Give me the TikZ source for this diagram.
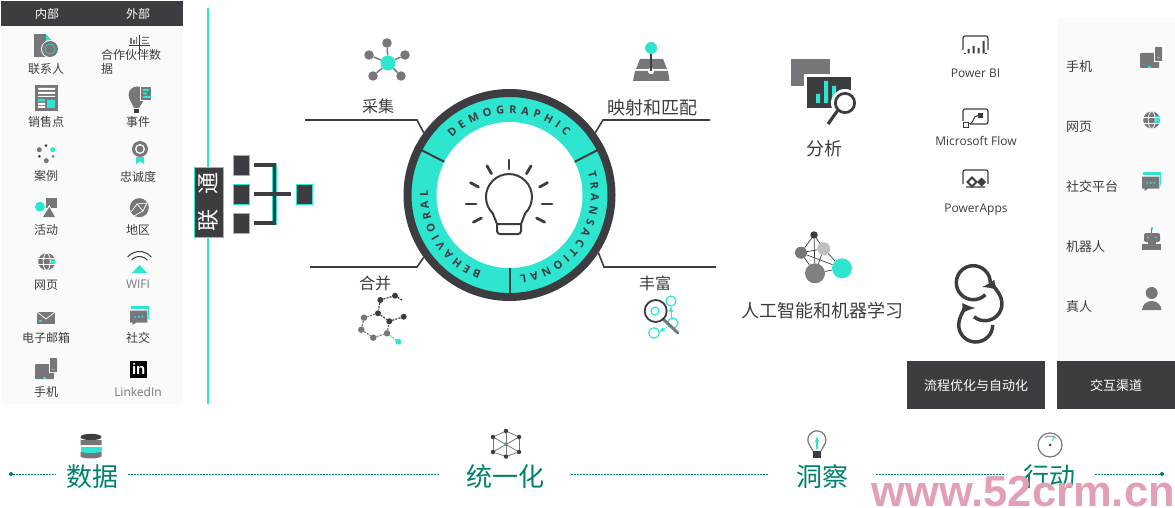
\documentclass[tikz,border=0pt]{standalone}
\usepackage{fontspec}
\setmainfont{Open Sans}
\newfontfamily\cjk{Noto Sans CJK SC}
\newfontfamily\markfont{Liberation Sans}
\usetikzlibrary{decorations.text, positioning}

\definecolor{dark}{HTML}{3D3C40}
\definecolor{midgray}{HTML}{77767A}
\definecolor{aqua}{HTML}{2EE6D0}
\definecolor{teal}{HTML}{00806E}
\definecolor{panel}{HTML}{FAFAFA}
\definecolor{pink}{HTML}{E3A0B5}

\tikzset{
    phoneicon/.pic={
        \fill[midgray, rounded corners=1] (0,0) rectangle (19,-15);
        \fill[white] (14,7) rectangle (23.5,-9);
        \fill[midgray, rounded corners=.5] (15,6) rectangle (22,-8);
        \fill[aqua] (8,-13) rectangle (11,-15);
        \fill[aqua] (17,-4.5) rectangle (20,-5.5);
    },
    globeicon/.pic={
        \fill[midgray] (0,0) circle (8.5);
        \fill[aqua] (4,3.5) rectangle (8.3,-3.5);
        \draw[white, line width=.8] (-8.5,3) -- (8.5,3) (-8.5,-3) -- (8.5,-3);
        \draw[white, line width=.8] (0,0) ellipse (3.5 and 8.5);
    },
    chaticon/.pic={
        \fill[aqua] (1,0) rectangle (19,-3);
        \fill[aqua] (17.7,0) rectangle (19,-12.5);
        \fill[midgray] (0,-4.7) -- (17.3,-4.7) -- (17.3,-16.7) -- (6,-16.7) -- (2.5,-19) -- (2.5,-16.7) -- (0,-16.7) -- cycle;
        \fill[aqua] (4.5,-10) rectangle (6,-11.5) (8,-10) rectangle (9.5,-11.5) (11.5,-10) rectangle (13,-11.5);
    }
}

\begin{document}
\begin{tikzpicture}[
            x=1pt,
            y=1pt
        ]

        \tikzstyle{every node}=[inner sep=0pt]
        \tikzstyle{cn}=[font=\cjk\fontsize{#1}{#1}\selectfont, text=dark, yshift=-1]
        \tikzstyle{lat}=[font=\fontsize{#1}{#1}\selectfont, text=dark]
        \tikzstyle{darkbox}=[fill=dark, text=white, font=\cjk\fontsize{13}{13}\selectfont, anchor=north west]
        \tikzstyle{treebox}=[draw=aqua, fill=dark, line width=.7, minimum width=16, minimum height=20]
        \tikzstyle{treeline}=[draw=aqua, double=dark, double distance=3.4, line width=.6]
        \tikzstyle{leader}=[draw=dark, line width=1.6]
        \tikzstyle{dot}=[circle, fill=#1]
        \tikzstyle{flow}=[draw=teal, line width=.9, dash pattern=on 2pt off 1pt]
        \tikzstyle{stage}=[font=\cjk\fontsize{26}{26}\selectfont, text=teal, text height=29, text depth=4]
        \tikzstyle{frame}=[draw=dark, line width=1.2, rounded corners=2]
        \tikzstyle{ringtext}=[decorate, decoration={text along path, text align={fit to path}, text={|\bfseries\fontsize{11}{11}\selectfont\color{dark}|#1}}]

        \useasboundingbox (0,-508) rectangle (1175,0);

        % Left list of sources
        \fill[panel] (1,-1) rectangle (183,-404);
        \fill[dark] (1,-1) rectangle (183,-26);
        \node[cn=12, text=white] (internal) at (47,-13) {内部};
        \node[cn=12, text=white] (external) at (138,-13) {外部};

        \node[cn=12] (contacts) at (46,-68) {联系人};
        \node[cn=12] (pos) at (46,-121) {销售点};
        \node[cn=12] (cases) at (46,-175) {案例};
        \node[cn=12] (campaign) at (46,-229) {活动};
        \node[cn=12] (webl) at (46,-284) {网页};
        \node[cn=12] (email) at (46,-337) {电子邮箱};
        \node[cn=12] (mobilel) at (46,-391) {手机};
        \node[cn=12, anchor=north west, align=left, font=\cjk\fontsize{12}{13.5}\selectfont] (partner) at (101,-48.5) {合作伙伴数\\据};
        \node[cn=12] (event) at (138,-121) {事件};
        \node[cn=12] (loyalty) at (138,-176) {忠诚度};
        \node[cn=12] (region) at (138,-229) {地区};
        \node[lat=12, text=midgray] (wifi) at (138,-284) {WIFI};
        \node[cn=12] (social) at (138,-337) {社交};
        \node[lat=12, text=midgray] (linkedin) at (138,-392) {LinkedIn};

        % contacts
        \fill[midgray] (34,-34) rectangle (46,-57);
        \fill[midgray] (46,-40) rectangle (50,-42);
        \fill[aqua] (46,-34) -- (52,-41) -- (46,-41) -- cycle;
        \fill[white] (50,-49) circle (9);
        \fill[midgray] (50,-49) circle (8);
        \draw[aqua, line width=.5] (50,-49) circle (5);
        % point of sale
        \fill[midgray] (35,-85) rectangle (58,-111);
        \fill[white] (38,-88) rectangle (55,-90) (38,-92) rectangle (55,-94) (38,-96) rectangle (55,-97);
        \fill[aqua] (47,-100) rectangle (55,-108) (38,-99) rectangle (45,-101.5);
        \fill[white] (38,-103) rectangle (45,-105) (38,-106) rectangle (45,-108);
        % partner data
        \fill[midgray] (130,-38) rectangle (132,-44) (133,-40) rectangle (135,-44) (136,-37) rectangle (137,-44);
        \fill[midgray] (142,-37) rectangle (149,-38) (142,-40) rectangle (147,-41) (142,-43) rectangle (149,-44);
        \draw[dark, line width=.8] (129,-45) -- (150,-45);
        \draw[dark, line width=.8] (139,-35) -- (139,-55);
        % event
        \fill[midgray] (137,-95) circle (8.5);
        \fill[midgray] (130,-100) -- (144,-100) -- (139,-108) -- (134,-108) -- cycle;
        \fill[dark] (134,-109) rectangle (139,-113);
        \fill[white] (140,-86) rectangle (152,-101);
        \fill[midgray] (141,-87) rectangle (151,-100);
        \fill[aqua] (143,-89) rectangle (149,-91) (143,-92.5) rectangle (147,-94.5) (143,-96) rectangle (151,-98);
        % cases
        \fill[dark] (46,-145.7) circle (1.5);
        \fill[aqua] (52.7,-149.7) circle (2.5);
        \fill[midgray] (53,-156.3) circle (1.5);
        \fill[midgray] (46.3,-160.7) circle (2.5);
        \fill[dark] (39.3,-156.3) circle (1.5);
        \fill[midgray] (39.3,-149.7) circle (2.5);
        % loyalty
        \fill[aqua] (136,-157) -- (144,-157) -- (144,-164) -- (140,-161.5) -- (136,-164) -- cycle;
        \fill[midgray] (140,-149) circle (8);
        \fill[white] (140,-149) circle (5);
        \fill[midgray] (140,-149) circle (3.5);
        % campaign
        \fill[midgray] (46,-198) rectangle (57,-208);
        \fill[white] (49.3,-205) -- (57,-218) -- (41,-218) -- cycle;
        \fill[midgray] (49.3,-207) -- (55,-217) -- (43,-217) -- cycle;
        \fill[aqua] (40,-206.7) circle (5);
        % region
        \fill[midgray] (139.3,-207.7) circle (9.5);
        \draw[white, line width=.7] (131,-212) -- (137,-204) -- (147,-203) -- (143,-211) -- (137,-204) (143,-211) -- (134,-216);
        % wifi
        \draw[dark, line width=1] (127.6,-257) arc[start angle=140, end angle=40, radius=15.5];
        \draw[dark, line width=1] (131.5,-260.2) arc[start angle=140, end angle=40, radius=10.4];
        \fill[aqua] (139.5,-265) -- (147,-273) -- (132,-273) -- cycle;
        % web, email, social, mobile, linkedin
        \pic at (46.7,-261.7) {globeicon};
        \fill[midgray] (37,-312) rectangle (55,-324);
        \draw[white, line width=.7] (37,-312) -- (46,-319) -- (55,-312);
        \fill[aqua] (39,-319.5) rectangle (41.5,-322);
        \pic at (130,-306) {chaticon};
        \pic at (35,-364) {phoneicon};
        \node[fill=black, minimum size=17.5, text=white, font=\markfont\bfseries\fontsize{15}{15}\selectfont] (inlogo) at (138.7,-369.5) {in};

        % Connect bar and tree
        \draw[aqua, line width=1.8] (208,-8) -- (208,-404);
        \node[rotate=90, draw=aqua, fill=dark, line width=.7, minimum width=70, minimum height=29, text=white, font=\cjk\fontsize{22}{22}\selectfont] (connect) at (208.5,-202) {联\hspace{15pt}通};
        \node[treebox] (leafa) at (241,-165) {};
        \node[treebox] (leafb) at (241,-194) {};
        \node[treebox] (leafc) at (241,-223) {};
        \node[treebox] (root) at (304.5,-194) {};
        \draw[treeline] ([xshift=5]leafa.east) -- ++(20,0) |- ([xshift=5]leafc.east);
        \draw[treeline] ([xshift=5]leafb.east) -- ([xshift=-5]root.west);

        % Center ring
        \node[circle, draw=dark, fill=aqua, line width=8, minimum size=204] (ring) at (509.5,-195) {};
        \node[circle, fill=white, minimum size=146] (hole) at (509.5,-195) {};
        \draw[dark, line width=2] (hole.153) -- (ring.153);
        \draw[dark, line width=2] (hole.27) -- (ring.27);
        \draw[dark, line width=2] (hole.270) -- (ring.270);
        \path[ringtext=DEMOGRAPHIC] (509.5,-195) ++(135:81.5) arc[start angle=135, end angle=46, radius=81.5];
        \path[ringtext=TRANSACTIONAL] (509.5,-195) ++(16:81.5) arc[start angle=16, end angle=-83, radius=81.5];
        \path[ringtext=BEHAVIORAL] (509.5,-195) ++(250:81.5) arc[start angle=250, end angle=177, radius=81.5];

        % bulb
        \draw[dark, line width=2, line join=round] (497,-224) -- (492.7,-213.3) arc[start angle=225, end angle=-45, radius=23] -- (521,-224) -- cycle;
        \draw[dark, line width=2, rounded corners=3] (497,-224) -- (497,-234) -- (521,-234) -- (521,-224);
        \draw[dark, line width=2.8, line cap=round] (509,-204) ++(90:35) -- ++(90:9);
        \draw[dark, line width=2.8, line cap=round] (509,-204) ++(60:35) -- ++(60:9);
        \draw[dark, line width=2.8, line cap=round] (509,-204) ++(120:35) -- ++(120:9);
        \draw[dark, line width=2.8, line cap=round] (509,-204) ++(29:35) -- ++(29:9);
        \draw[dark, line width=2.8, line cap=round] (509,-204) ++(151:35) -- ++(151:9);
        \draw[dark, line width=2.8, line cap=round] (509,-204) ++(0:33) -- ++(0:10);
        \draw[dark, line width=2.8, line cap=round] (509,-204) ++(180:33) -- ++(180:10);
        \draw[dark, line width=2.8, line cap=round] (509,-204) ++(-27:31) -- ++(-27:9);
        \draw[dark, line width=2.8, line cap=round] (509,-204) ++(207:31) -- ++(207:9);

        % Four leaders
        \coordinate (collectend) at (305,-120);
        \coordinate (mapend) at (710,-120);
        \coordinate (mergeend) at (310,-267);
        \coordinate (enrichend) at (716,-267);
        \draw[leader] (ring.144) -- (417,-120) -- (collectend);
        \draw[leader] (ring.36) -- (603,-120) -- (mapend);
        \draw[leader] (ring.216) -- (417,-267) -- (mergeend);
        \draw[leader] (ring.-33) -- (604,-267) -- (enrichend);
        \node[cn=16] (collect) at (378,-105) {采集};
        \node[cn=18] (map) at (652,-107) {映射和匹配};
        \node[cn=16] (merge) at (375,-282) {合并};
        \node[cn=16] (enrich) at (655,-282) {丰富};

        % collect icon
        \node[dot=midgray, minimum size=9.5] (cola) at (387,-43) {};
        \node[dot=midgray, minimum size=9.5] (colb) at (369,-55) {};
        \node[dot=midgray, minimum size=9.5] (colc) at (405,-55) {};
        \node[dot=midgray, minimum size=9.5] (cold) at (373,-76) {};
        \node[dot=midgray, minimum size=9.5] (cole) at (401,-76) {};
        \node[dot=aqua, minimum size=15] (colhub) at (388,-63) {};
        \path[midgray, line width=1.5] (colhub) edge (cola);
        \path[midgray, line width=1.5] (colhub) edge (colb);
        \path[midgray, line width=1.5] (colhub) edge (colc);
        \path[midgray, line width=1.5] (colhub) edge (cold);
        \path[midgray, line width=1.5] (colhub) edge (cole);

        % map icon
        \fill[midgray] (640,-59) -- (663,-59) -- (667,-69) -- (636,-69) -- cycle;
        \fill[midgray] (635,-71) -- (668,-71) -- (669.5,-81) -- (633,-81) -- cycle;
        \fill[white] (651,-71) circle (3.2);
        \draw[dark, line width=1.6] (651,-52) -- (651,-71);
        \node[dot=aqua, minimum size=12] (mappin) at (651,-48) {};

        % merge icon
        \node[dot=dark, minimum size=6] (mga) at (380.3,-300) {};
        \node[dot=dark, minimum size=6] (mgb) at (395,-295.7) {};
        \node[dot=dark, minimum size=6] (mgc) at (378,-313.3) {};
        \node[dot=dark, minimum size=6] (mgd) at (389.3,-321.3) {};
        \node[dot=dark, minimum size=6] (mge) at (403.7,-316.7) {};
        \node[dot=midgray, minimum size=6.5] (mgf) at (364,-317.7) {};
        \node[dot=midgray, minimum size=6.5] (mgg) at (361.3,-329.7) {};
        \node[dot=midgray, minimum size=6.5] (mgh) at (373.3,-337.7) {};
        \node[dot=midgray, minimum size=6.5] (mgi) at (387,-333.3) {};
        \node[dot=aqua, minimum size=6] (mgj) at (398.3,-341.7) {};
        \coordinate (mgtail) at (402,-300);
        \path[dark, line width=1.2, dash pattern=on 2pt off 1.2pt] (mga) edge (mgb);
        \path[dark, line width=1.2, dash pattern=on 2pt off 1.2pt] (mga) edge (mgc);
        \path[dark, line width=1.2, dash pattern=on 2pt off 1.2pt] (mgc) edge (mgd);
        \path[dark, line width=1.2, dash pattern=on 2pt off 1.2pt] (mgd) edge (mge);
        \path[dark, line width=1.2, dash pattern=on 2pt off 1.2pt] (mgb) edge (mgtail);
        \path[midgray, line width=1.2, dash pattern=on 2pt off 1.2pt] (mgc) edge (mgf);
        \path[midgray, line width=1.2, dash pattern=on 2pt off 1.2pt] (mgf) edge (mgg);
        \path[midgray, line width=1.2, dash pattern=on 2pt off 1.2pt] (mgg) edge (mgh);
        \path[midgray, line width=1.2, dash pattern=on 2pt off 1.2pt] (mgh) edge (mgi);
        \path[midgray, line width=1.2, dash pattern=on 2pt off 1.2pt] (mgi) edge (mgd);
        \path[aqua, line width=1.2, dash pattern=on 2pt off 1.2pt] (mgi) edge (mgj);

        % enrich icon
        \draw[aqua, line width=1.2] (671,-301) circle (5) (654,-333) circle (5.3) (673,-323) circle (5) (655,-311) circle (4);
        \draw[aqua, line width=.9, -latex] (671,-318) -- (671,-306);
        \draw[aqua, line width=.9, dash pattern=on 1.5pt off 1pt, -latex] (669,-326) -- (659,-332);
        \draw[midgray, line width=3, line cap=round] (663,-319) -- (678,-333);
        \draw[dark, line width=1.8] (655.7,-311) circle (11);

        % Analysis
        \fill[midgray] (791,-59) rectangle (830,-86);
        \fill[white] (804,-74) rectangle (854,-111);
        \fill[dark] (807,-77) rectangle (851,-108);
        \fill[aqua] (816,-94) rectangle (820,-103) (824,-81) rectangle (828,-103) (832,-86) rectangle (836,-103);
        \fill[white] (845,-103) circle (14);
        \draw[dark, line width=3] (845,-103) circle (9.5);
        \fill[white] (845,-103) circle (8);
        \draw[dark, line width=3.2] (838,-110) -- (828,-124);
        \node[cn=18] (analysis) at (824,-148) {分析};

        % AI and ML
        \node[dot=dark, minimum size=7.5] (aia) at (814,-235) {};
        \node[dot=midgray, minimum size=12] (aib) at (801,-252.7) {};
        \node[dot=white!75!black, minimum size=13] (aic) at (823.7,-248.7) {};
        \node[dot=white!50!black, minimum size=20] (aid) at (815,-273.3) {};
        \node[dot=aqua, minimum size=20] (aie) at (842,-268.3) {};
        \path[dark, line width=.7] (aia) edge (aib);
        \path[dark, line width=.7] (aia) edge (aic);
        \path[dark, line width=.7] (aia) edge (aid);
        \path[dark, line width=.7] (aib) edge (aic);
        \path[dark, line width=.7] (aib) edge (aid);
        \path[dark, line width=.7] (aib) edge (aie);
        \path[dark, line width=.7] (aic) edge (aid);
        \path[dark, line width=.7] (aic) edge (aie);
        \path[dark, line width=.7] (aid) edge (aie);
        \node[cn=18] (aiml) at (822,-310) {人工智能和机器学习};

        % Power tools
        \draw[frame] (963,-50) -- (963,-36) -- (988,-36) -- (988,-50);
        \draw[dark, line width=.9] (964,-53) -- (966,-53) (985,-53) -- (987,-53);
        \fill[dark] (967.5,-49) rectangle (969.5,-53.5) (972.5,-46) rectangle (974.5,-53.5) (977.5,-48) rectangle (979.5,-53.5) (982.5,-41) rectangle (984.5,-53.5);
        \node[lat=12] (powerbi) at (975.5,-73) {Power BI};
        \draw[frame] (963,-121) -- (963,-109) -- (988,-109) -- (988,-124) -- (970,-124);
        \draw[draw=dark, fill=white, line width=.8] (963.5,-122) rectangle (968,-127);
        \draw[dark, line width=1] (968,-124) .. controls (975,-124) and (972,-115.5) .. (978,-115.5);
        \fill[dark] (977.5,-113) rectangle (983,-118.5);
        \node[lat=12] (msflow) at (976,-141) {Microsoft Flow};
        \draw[frame] (963,-184) -- (963,-170) -- (988,-170) -- (988,-184) (966,-187) -- (985,-187);
        \draw[dark, line width=1.8] (967.5,-182) -- (972,-177.5) -- (976.5,-182) -- (972,-186.5) -- cycle;
        \fill[dark] (981.5,-177.5) -- (986,-182) -- (981.5,-186.5) -- (977,-182) -- cycle;
        \node[lat=12] (powerapps) at (976,-209.5) {PowerApps};

        % Loop icon
        \draw[dark, line width=3.5] (990.3,-282.7) arc[start angle=0, end angle=315, radius=17];
        \draw[dark, line width=3.5, latex-] (982,-287) arc[start angle=100, end angle=-130, radius=17];
        \draw[dark, line width=3.5, latex-] (975.7,-308) arc[start angle=90, end angle=360, radius=17];

        % Bottom boxes
        \fill[panel] (1057,-18) rectangle (1175,-361);
        \node[darkbox, minimum width=138, minimum height=48] (processbox) at (907,-361) {流程优化与自动化};
        \node[darkbox, minimum width=118, minimum height=48] (channelbox) at (1057,-361) {交互渠道};

        % Right list of channels
        \node[cn=13, anchor=west] (mobiler) at (1066,-66) {手机};
        \node[cn=13, anchor=west] (webr) at (1066,-126) {网页};
        \node[cn=13, anchor=west] (socialr) at (1066,-186) {社交平台};
        \node[cn=13, anchor=west] (robot) at (1066,-246) {机器人};
        \node[cn=13, anchor=west] (human) at (1066,-306) {真人};
        \pic at (1140,-53) {phoneicon};
        \pic at (1151.7,-120) {globeicon};
        \pic at (1142,-172) {chaticon};
        % robot
        \fill[aqua] (1150.5,-227) rectangle (1153,-229.5);
        \draw[midgray, line width=.8] (1151.7,-229) -- (1151.7,-233);
        \fill[midgray, rounded corners=2] (1144,-233) rectangle (1160,-242);
        \fill[midgray] (1148,-242) rectangle (1156,-244);
        \fill[midgray] (1142,-244) rectangle (1161,-250);
        \fill[aqua] (1147,-236.5) rectangle (1148.5,-238) (1155,-236.5) rectangle (1156.5,-238);
        % person
        \fill[midgray] (1151.7,-293) circle (6);
        \fill[midgray] (1142,-310) arc[start angle=180, end angle=0, x radius=9.7, y radius=9] -- cycle;

        % Bottom stages
        \node[dot=teal, minimum size=4] (flowstart) at (11,-474) {};
        \node[dot=teal, minimum size=4] (flowend) at (1162,-474) {};
        \node[stage, minimum width=72] (data) at (92,-474) {数据};
        \node[stage, minimum width=131] (unify) at (505.5,-474) {统一化};
        \node[stage, minimum width=107] (insight) at (822,-474) {洞察};
        \node[stage, minimum width=90] (action) at (1049.5,-474) {行动};
        \path[flow] (flowstart) edge (data);
        \path[flow] (data) edge (unify);
        \path[flow] (unify) edge (insight);
        \path[flow] (insight) edge (action);
        \path[flow] (action) edge (flowend);

        % data icon
        \fill[midgray] (80.5,-440) rectangle (101.5,-445) (80.5,-452) rectangle (101.5,-456);
        \fill[midgray] (91,-456) ellipse (10.5 and 2.5);
        \fill[aqua] (80.5,-447) rectangle (101.5,-451);
        \fill[aqua] (91,-451) ellipse (10.5 and 2);
        \fill[dark] (91,-437) ellipse (10.5 and 3.2);

        % unify icon
        \node[dot=dark, minimum size=4.5] (una) at (506,-431) {};
        \node[dot=dark, minimum size=4.5] (unb) at (519,-437) {};
        \node[dot=dark, minimum size=4.5] (unc) at (519,-452) {};
        \node[dot=dark, minimum size=4.5] (und) at (506,-456.5) {};
        \node[dot=dark, minimum size=4.5] (une) at (493,-452) {};
        \node[dot=dark, minimum size=4.5] (unf) at (493,-437) {};
        \node[dot=aqua, minimum size=4] (unhub) at (506,-444) {};
        \path[midgray, line width=.8] (una) edge (unb);
        \path[midgray, line width=.8] (unb) edge (unc);
        \path[midgray, line width=.8] (unc) edge (und);
        \path[midgray, line width=.8] (und) edge (une);
        \path[midgray, line width=.8] (une) edge (unf);
        \path[midgray, line width=.8] (unf) edge (una);
        \path[midgray, line width=.8] (una) edge (und);
        \path[midgray, line width=.8] (unf) edge (unc);
        \path[midgray, line width=.8] (unb) edge (une);

        % insight icon
        \draw[midgray, line width=1.2] (813,-451) -- (809.5,-445) arc[start angle=215, end angle=-35, radius=9] -- (821,-451);
        \fill[dark] (813,-451) rectangle (821,-458);
        \draw[aqua, line width=1.1, -latex] (817,-449) -- (817,-436);

        % action icon
        \draw[midgray, line width=1.2] (1050,-445) circle (12);
        \draw[midgray, line width=.8] (1050,-445) ++(125:9) arc[start angle=125, end angle=50, radius=9];
        \draw[aqua, line width=.9] (1052,-441) -- (1055,-436);
        \fill[dark] (1050,-445) circle (1.5);

        % Site mark
        \node[anchor=base east, text=pink, font=\markfont\bfseries\fontsize{43.5}{43.5}\selectfont] (sitemark) at (1175,-506.5) {www.52crm.cn};

    \end{tikzpicture}
\end{document}
